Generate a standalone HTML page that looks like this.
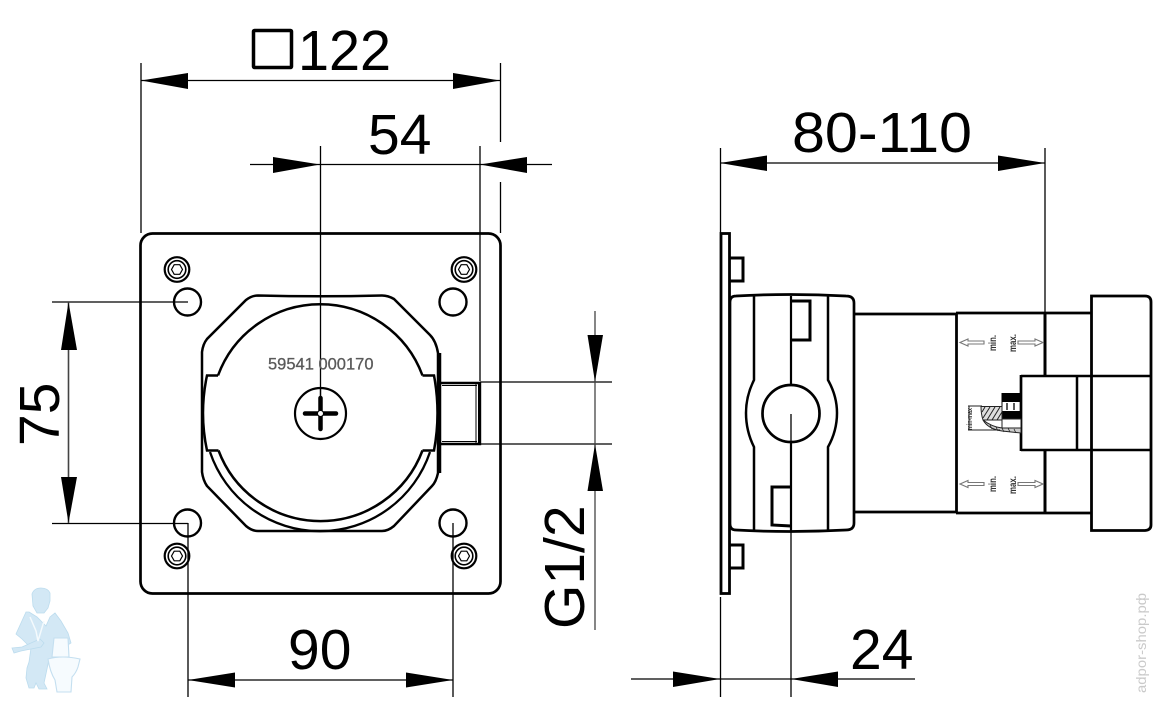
<!DOCTYPE html>
<html><head><meta charset="utf-8">
<style>
html,body{margin:0;padding:0;background:#fff}
svg{display:block}
text{font-family:"Liberation Sans",sans-serif}
</style></head>
<body>
<svg width="1157" height="703" viewBox="0 0 1157 703" xmlns="http://www.w3.org/2000/svg">
<rect width="1157" height="703" fill="#fff"/>

<!-- plumber logo -->
<g fill="#d3e8f5" stroke="#bcdcee" stroke-width="0.800">
<path d="M32 594q2-6 9-6t9 5l0 8-2 7-4 5-7 0-4-7z"/>
<path d="M29 612l8 5 9 9 4-9 5-4 6 8 7 12 3 10-8 5-6-1-3 12-5 0-2 10-3 14 3 6-8 0-3-6-2 5-5 0-3-10 1-10 2-6 2-14-9-9-6-5 10-22z"/>
<path d="M12 648l10-1 18-8 4 4-3 4-20 4-7 2z"/>
</g>
<g fill="#f6fbfe" stroke="#c4dff0" stroke-width="1.100">
<path d="M54 638h14l1 19h-17z"/>
<path d="M48 659q14-4 32 0l-2 8q-2 6-6 10l-1 15h-14l-2-12q-5-8-7-21z"/>
</g>
<path d="M30 617l6 14 2 10 6-20" fill="none" stroke="#f4fafd" stroke-width="1.500"/>

<!-- watermark -->
<text transform="translate(1146,693) rotate(-90)" font-size="14" fill="#cacaca" textLength="100" lengthAdjust="spacingAndGlyphs">adpor-shop.pф</text>

<!-- ===== thin dimension lines ===== -->
<g stroke="#000" stroke-width="1.300" fill="none">
<path d="M141 63V233M500.500 63V142M500.500 182V233"/>
<path d="M141 80.500H500"/>
<path d="M250 164.500H552"/>
<path d="M320.500 146V414"/>
<path d="M480 146V381"/>
<path d="M52 302H188M52 523.500H188"/>
<path d="M68.500 302V523" stroke="#444" stroke-width="1.600"/>
<path d="M188 523V697M453 523V697"/>
<path d="M188 680H453"/>
<path d="M480 382H612M480 444H612"/>
<path d="M595 311V630" stroke="#444"/>
<path d="M720.500 148V233M1045 148V313"/>
<path d="M720 163H1045"/>
<path d="M720.500 597V697"/>
<path d="M631 679H915"/>
</g>

<!-- arrowheads -->
<g fill="#000">
<polygon points="141,80.500 188,73 188,89"/>
<polygon points="500,80.500 453,73 453,89"/>
<polygon points="320,164.500 273,157 273,173"/>
<polygon points="480,164.500 527,157 527,173"/>
<polygon points="68.500,302 61,350 77,350"/>
<polygon points="68.500,523 61,477 77,477"/>
<polygon points="188,680 235,672.500 235,687.500"/>
<polygon points="453,680 406,672.500 406,687.500"/>
<polygon points="595,382 587.500,335 603,335"/>
<polygon points="595,444 587.500,491 603,491"/>
<polygon points="720,163 767,155.500 767,171"/>
<polygon points="1045,163 998,155.500 998,171"/>
<polygon points="720,679 673,671.500 673,687"/>
<polygon points="791,679 838,671.500 838,687"/>
</g>

<!-- labels -->
<g fill="#000" font-size="57">
<rect x="253.500" y="30.500" width="38" height="37" fill="none" stroke="#000" stroke-width="3.500" rx="1"/>
<text x="298" y="70" textLength="93" lengthAdjust="spacingAndGlyphs">122</text>
<text x="368" y="154">54</text>
<text x="288" y="669">90</text>
<text x="792" y="152" textLength="180" lengthAdjust="spacingAndGlyphs">80-110</text>
<text x="850" y="669">24</text>
<text transform="translate(59,446) rotate(-90)">75</text>
<text transform="translate(584,629) rotate(-90)">G1/2</text>
</g>

<!-- ===== front view ===== -->
<rect x="140.500" y="233.500" width="360" height="360" rx="12" fill="none" stroke="#000" stroke-width="2.700"/>

<!-- mount holes -->
<g fill="none" stroke="#000" stroke-width="2.400">
<circle cx="187.500" cy="302" r="13.500"/>
<circle cx="453" cy="302" r="13.500"/>
<circle cx="187.500" cy="523" r="13.500"/>
<circle cx="453" cy="523" r="13.500"/>
</g>

<!-- screws -->
<g fill="none" stroke="#000">
<g transform="translate(177,269.500)"><circle r="12.300" stroke-width="2.200"/><circle r="8.800" stroke-width="1.600"/><polygon points="-5.500,0 -2.800,-4.800 2.800,-4.800 5.500,0 2.800,4.800 -2.800,4.800" stroke-width="1.200"/></g>
<g transform="translate(464,269.500)"><circle r="12.300" stroke-width="2.200"/><circle r="8.800" stroke-width="1.600"/><polygon points="-5.500,0 -2.800,-4.800 2.800,-4.800 5.500,0 2.800,4.800 -2.800,4.800" stroke-width="1.200"/></g>
<g transform="translate(177,556)"><circle r="12.300" stroke-width="2.200"/><circle r="8.800" stroke-width="1.600"/><polygon points="-5.500,0 -2.800,-4.800 2.800,-4.800 5.500,0 2.800,4.800 -2.800,4.800" stroke-width="1.200"/></g>
<g transform="translate(464,556)"><circle r="12.300" stroke-width="2.200"/><circle r="8.800" stroke-width="1.600"/><polygon points="-5.500,0 -2.800,-4.800 2.800,-4.800 5.500,0 2.800,4.800 -2.800,4.800" stroke-width="1.200"/></g>
</g>

<!-- housing outline -->
<g fill="none" stroke="#000" stroke-width="2.500">
<path d="M258 295.500Q320 297 382 295.500Q388 295.500 394 299L430 335Q436 341 438 353V473Q436 482 432 486L394 526Q388 531 382 531H258Q252 531 246 526L207 486Q203 480 202 472V352Q203 344 207 339L246 300Q252 295.500 258 295.500Z"/>
<path d="M218 375.500H207Q199 413 207 450.500H218.500"/>
<path d="M218 375.500A109 109 0 0 1 422.500 375.500"/>
<path d="M422.500 375.500H434Q441 413 434 450.500H422.500"/>
<path d="M218.500 450.500A109 109 0 0 0 422.500 450.500"/>
<path d="M210 452A116 116 0 0 0 430 452" stroke-width="2.300"/>
</g>
<path d="M440 353V473" stroke="#000" stroke-width="2.500"/>

<!-- fitting -->
<g fill="none" stroke="#000">
<path d="M441 383H480V444H441" stroke-width="2.400"/>
<path d="M442 385.500H477" stroke-width="0.900"/>
<path d="M442 441.500H477" stroke-width="0.900"/>
<path d="M479.500 382V444" stroke-width="3"/>
<path d="M476 384V443" stroke-width="1"/>
</g>

<!-- serial -->
<text x="268" y="369.500" font-size="17" fill="#5a5a5a" stroke="#5a5a5a" stroke-width="0.300" textLength="105.500" lengthAdjust="spacingAndGlyphs">59541 000170</text>

<!-- centre screw -->
<circle cx="320.500" cy="413.500" r="25.500" fill="#fff" stroke="#000" stroke-width="2.200"/>
<path d="M320.500 398V429M305 413.500H336" stroke="#000" stroke-width="4.500" stroke-linecap="round"/>
<circle cx="320.500" cy="413.500" r="3" fill="#fff" stroke="#000" stroke-width="1"/>
<path d="M320.500 388V400" stroke="#000" stroke-width="1.500"/>

<!-- ===== side view ===== -->
<rect x="721" y="233.500" width="8.500" height="360" fill="#fff" stroke="#000" stroke-width="2.800"/>
<path d="M730 258H743V281H730M730 545H743V568H730" fill="none" stroke="#000" stroke-width="3"/>

<!-- body -->
<path d="M730 302Q730 296 736 296Q790 293 846 296Q854 296 854 303V523Q854 530 846 530Q790 533 736 530Q730 530 730 524Z" fill="none" stroke="#000" stroke-width="2.700"/>
<path d="M754 296V380Q746 396 746 413Q746 431 754 447V530" fill="none" stroke="#000" stroke-width="2.500"/>
<path d="M828 296V380Q837 396 837 413Q837 431 828 447V530" fill="none" stroke="#000" stroke-width="2.500"/>
<circle cx="791" cy="413.500" r="28.500" fill="#fff" stroke="#000" stroke-width="2.700"/>
<path d="M791 296V385M791 442V531" stroke="#000" stroke-width="2.200"/>
<path d="M791 414V697" stroke="#000" stroke-width="1.300"/>
<path d="M791 301H810V340H791" fill="none" stroke="#000" stroke-width="3"/>
<path d="M791 487H772V525L791 526" fill="none" stroke="#000" stroke-width="3"/>

<!-- cylinder -->
<path d="M854 314H957M854 512H957" stroke="#000" stroke-width="2.700"/>
<path d="M956.500 313V513" stroke="#000" stroke-width="2.800"/>
<path d="M956 313H1092" stroke="#000" stroke-width="2.700"/>
<path d="M956 513H1092" stroke="#000" stroke-width="2.700"/>
<path d="M1045 313V376M1045 450V513" stroke="#000" stroke-width="3"/>

<!-- right block -->
<path d="M1091.500 296H1145Q1151 296 1151 302V525Q1151 530 1145 530.500H1091.500Z" fill="none" stroke="#000" stroke-width="2.800"/>
<path d="M1021 376H1151M1021 450H1151" stroke="#000" stroke-width="2.500"/>
<path d="M1021 375V451" stroke="#000" stroke-width="2.700"/>
<path d="M1077 376V450" stroke="#000" stroke-width="2.500"/>

<!-- min / max hollow arrows -->
<g fill="#fff" stroke="#777" stroke-width="1.100">
<polygon points="960,342.500 968,339 968,341 984,341 984,344 968,344 968,346"/>
<polygon points="1043,342.500 1035,339 1035,341 1018,341 1018,344 1035,344 1035,346"/>
<polygon points="960,484 968,480.500 968,482.500 984,482.500 984,485.500 968,485.500 968,487.500"/>
<polygon points="1043,484 1035,480.500 1035,482.500 1018,482.500 1018,485.500 1035,485.500 1035,487.500"/>
</g>
<g fill="#333" font-size="10" font-weight="bold">
<text transform="translate(996,351) rotate(-90)" textLength="16" lengthAdjust="spacingAndGlyphs">min.</text>
<text transform="translate(1016,352) rotate(-90)" textLength="18" lengthAdjust="spacingAndGlyphs">max.</text>
<text transform="translate(996,492) rotate(-90)" textLength="16" lengthAdjust="spacingAndGlyphs">min.</text>
<text transform="translate(1016,494) rotate(-90)" textLength="18" lengthAdjust="spacingAndGlyphs">max.</text>
</g>

<!-- cut-away detail -->
<rect x="1002" y="393" width="19" height="9" fill="#000"/>
<rect x="1002" y="411" width="19" height="8" fill="#000"/>
<path d="M1002 393V419" stroke="#000" stroke-width="1"/>
<path d="M1007 403V410M1014 403V410" stroke="#222" stroke-width="1.500"/>
<path d="M981 406.500H1002V420H983Q981 414 981 406.500Z" fill="#ddd" stroke="#222" stroke-width="1"/>
<g stroke="#222" stroke-width="1">
<path d="M985 407l-3 5M990 407l-7 11M995 407l-8 13M1000 407l-8 13M1002 412l-5 8"/>
</g>
<path d="M1002 419H1021V428H1002Z" fill="#fff" stroke="#222" stroke-width="1"/>
<path d="M983 420Q988 429 1002 431L1021 433V428H1002Q992 427 983 420Z" fill="#ccc" stroke="#222" stroke-width="1"/>
<g stroke="#222" stroke-width="0.800"><path d="M990 425l2 4M996 427l2 4M1002 428l2 4M1008 428l2 4M1014 429l2 4"/></g>
<path d="M968 406H982M968 430H1000M969 406V430" fill="none" stroke="#222" stroke-width="1"/>
<text transform="translate(972,430) rotate(-90)" font-size="7" font-weight="bold" fill="#333" textLength="22" lengthAdjust="spacingAndGlyphs">min-max</text>
</svg>
</body></html>
